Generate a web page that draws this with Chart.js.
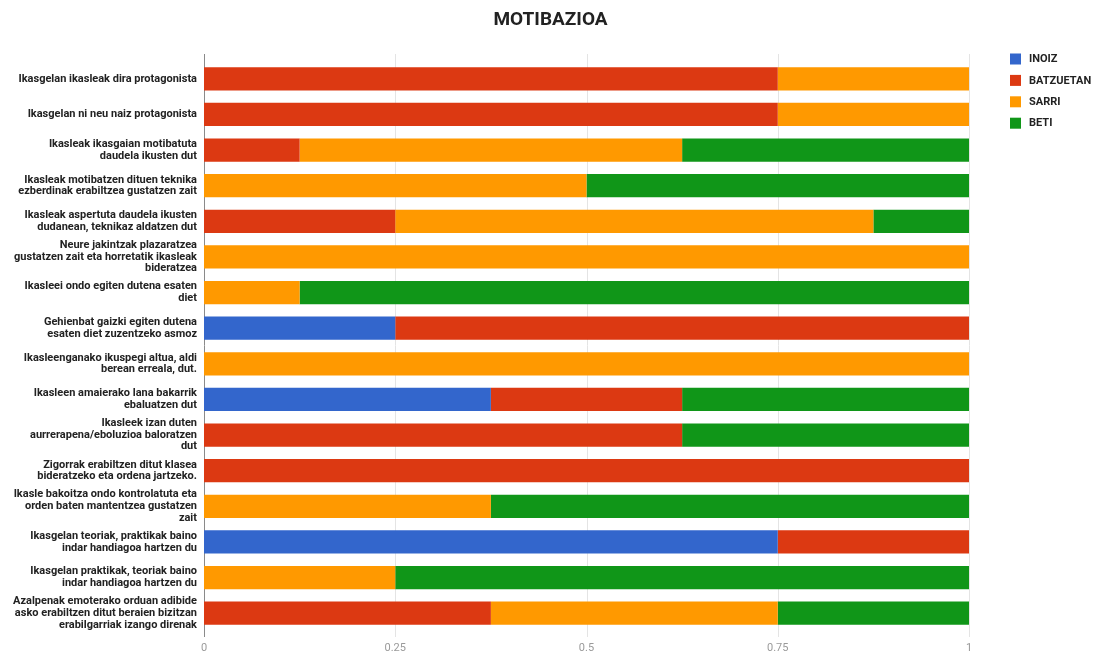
<!DOCTYPE html>
<html>
<head>
<meta charset="utf-8">
<script src="https://cdn.jsdelivr.net/npm/chart.js@4/dist/chart.umd.min.js"></script>
<style>
  html, body { margin: 0; padding: 0; background: #fff; }
  #wrap { width: 1101px; height: 655px; }
</style>
</head>
<body>
<div id="wrap"><canvas id="c" width="1101" height="655"></canvas></div>
<script>
// Survey statements (Basque), one per row
const categories = [
  'Ikasgelan ikasleak dira protagonista',
  'Ikasgelan ni neu naiz protagonista',
  ['Ikasleak ikasgaian motibatuta', 'daudela ikusten dut'],
  ['Ikasleak motibatzen dituen teknika', 'ezberdinak erabiltzea gustatzen zait'],
  ['Ikasleak aspertuta daudela ikusten', 'dudanean, teknikaz aldatzen dut'],
  ['Neure jakintzak plazaratzea', 'gustatzen zait eta horretatik ikasleak', 'bideratzea'],
  ['Ikasleei ondo egiten dutena esaten', 'diet'],
  ['Gehienbat gaizki egiten dutena', 'esaten diet zuzentzeko asmoz'],
  ['Ikasleenganako ikuspegi altua, aldi', 'berean erreala, dut.'],
  ['Ikasleen amaierako lana bakarrik', 'ebaluatzen dut'],
  ['Ikasleek izan duten', 'aurrerapena/eboluzioa baloratzen', 'dut'],
  ['Zigorrak erabiltzen ditut klasea', 'bideratzeko eta ordena jartzeko.'],
  ['Ikasle bakoitza ondo kontrolatuta eta', 'orden baten mantentzea gustatzen', 'zait'],
  ['Ikasgelan teoriak, praktikak baino', 'indar handiagoa hartzen du'],
  ['Ikasgelan praktikak, teoriak baino', 'indar handiagoa hartzen du'],
  ['Azalpenak emoterako orduan adibide', 'asko erabiltzen ditut beraien bizitzan', 'erabilgarriak izango direnak']
];

// Share of answers per frequency level
const inoiz     = [0, 0, 0, 0, 0, 0, 0, 0.25, 0, 0.375, 0, 0, 0, 0.75, 0, 0];
const batzuetan = [0.75, 0.75, 0.125, 0, 0.25, 0, 0, 0.75, 0, 0.25, 0.625, 1, 0, 0.25, 0, 0.375];
const sarri     = [0.25, 0.25, 0.5, 0.5, 0.625, 1, 0.125, 0, 1, 0, 0, 0, 0.375, 0, 0.25, 0.375];
const beti      = [0, 0, 0.375, 0.5, 0.125, 0, 0.875, 0, 0, 0.375, 0.375, 0, 0.625, 0, 0.75, 0.25];

const seriesNames = ['INOIZ', 'BATZUETAN', 'SARRI', 'BETI'];
const seriesColors = ['#3366cc', '#dc3912', '#ff9900', '#109618'];
const xTicks = [0, 0.25, 0.5, 0.75, 1];
const chartTitle = 'MOTIBAZIOA';

const FONT = 'Roboto, "Noto Sans", sans-serif';

// Vertical grid lines that run slightly past the plot band
const gridPlugin = {
  id: 'gridExt',
  beforeDatasetsDraw(chart) {
    const { ctx, chartArea, scales } = chart;
    const x = scales.x;
    ctx.save();
    x.ticks.forEach(t => {
      const px = Math.round(x.getPixelForValue(t.value)) + 0.5;
      ctx.beginPath();
      ctx.strokeStyle = t.value === 0 ? '#8a8a8a' : '#e4e4e4';
      ctx.lineWidth = 1;
      ctx.moveTo(px, chartArea.top - 7);
      ctx.lineTo(px, chartArea.bottom + 6);
      ctx.stroke();
    });
    ctx.restore();
  }
};

// Title centred on the whole canvas, legend column on the right
const headerLegendPlugin = {
  id: 'headerLegend',
  afterDraw(chart) {
    const { ctx, chartArea, width } = chart;
    ctx.save();
    ctx.fillStyle = '#222';
    ctx.font = 'bold 19px ' + FONT;
    ctx.textAlign = 'center';
    ctx.textBaseline = 'middle';
    ctx.fillText(chartTitle, width / 2, 20);

    ctx.font = 'bold 11px ' + FONT;
    ctx.textAlign = 'left';
    chart.data.datasets.forEach((ds, i) => {
      const cy = 59 + i * 21.4;
      const bx = chartArea.right + 41;
      ctx.fillStyle = ds.backgroundColor;
      ctx.fillRect(bx, cy - 5.5, 11, 11);
      ctx.fillStyle = '#222';
      ctx.fillText(ds.label, bx + 19, cy + 0.5);
    });
    ctx.restore();
  }
};

const seriesValues = [inoiz, batzuetan, sarri, beti];

new Chart(document.getElementById('c'), {
  type: 'bar',
  data: {
    labels: categories,
    datasets: seriesNames.map((name, i) => ({
      label: name,
      data: seriesValues[i],
      backgroundColor: seriesColors[i],
      borderWidth: 0,
      barPercentage: 0.65,
      categoryPercentage: 1
    }))
  },
  options: {
    indexAxis: 'y',
    responsive: false,
    animation: false,
    layout: { padding: { left: 0, right: 132, top: 61, bottom: 0 } },
    plugins: {
      legend: { display: false },
      tooltip: { enabled: false },
      title: { display: false }
    },
    scales: {
      x: {
        stacked: true,
        min: 0,
        max: 1,
        afterBuildTicks(scale) { scale.ticks = xTicks.map(v => ({ value: v })); },
        afterFit(scale) { scale.height = 24; },
        grid: { display: false, drawTicks: false },
        border: { display: false },
        ticks: {
          color: '#9a9a9a',
          padding: 11,
          font: { family: FONT, size: 11 },
          callback: v => String(v)
        }
      },
      y: {
        stacked: true,
        afterFit(scale) {
          scale.width = 204;
          scale.paddingTop = 0;
          scale.paddingBottom = 0;
        },
        grid: { display: false, drawTicks: false },
        border: { display: false },
        ticks: {
          color: '#222',
          padding: 7,
          autoSkip: false,
          font: { family: FONT, size: 11, weight: 'bold', lineHeight: 1.06 }
        }
      }
    }
  },
  plugins: [gridPlugin, headerLegendPlugin]
});
</script>
</body>
</html>
